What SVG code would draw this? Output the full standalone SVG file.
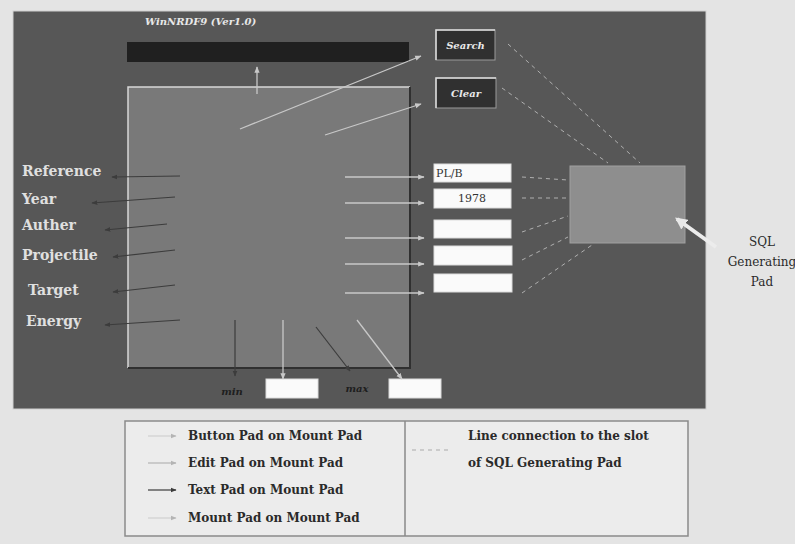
<svg xmlns="http://www.w3.org/2000/svg" width="795" height="544" viewBox="0 0 795 544">
<defs>
<marker id="aL" viewBox="0 0 10 10" refX="9" refY="5" markerWidth="5" markerHeight="5" orient="auto"><path d="M0,1 L10,5 L0,9 z" fill="#c8c8c8"/></marker>
<marker id="aD" viewBox="0 0 10 10" refX="9" refY="5" markerWidth="5" markerHeight="5" orient="auto"><path d="M0,1 L10,5 L0,9 z" fill="#3c3c3c"/></marker>
<marker id="aW" viewBox="0 0 10 10" refX="8" refY="5" markerWidth="3" markerHeight="3" orient="auto"><path d="M0,0 L10,5 L0,10 z" fill="#e8e8e8"/></marker>
<marker id="aG" viewBox="0 0 10 10" refX="9" refY="5" markerWidth="5" markerHeight="5" orient="auto"><path d="M0,1 L10,5 L0,9 z" fill="#b4b4b4"/></marker>
</defs>
<style>
.lbl{font-family:"DejaVu Serif",serif;font-weight:bold;font-size:14px;fill:#e0e0e0}
.btn{font-family:"DejaVu Serif",serif;font-weight:bold;font-style:italic;font-size:10px;fill:#e8e8e8}
.dk{font-family:"DejaVu Serif",serif;font-weight:bold;font-style:italic;font-size:10px;fill:#1e1e1e}
.edit{fill:#fafafa;stroke:#dcdcdc;stroke-width:1}
.ed{font-family:"DejaVu Serif",serif;font-size:11px;fill:#333}
.leg{font-family:"DejaVu Serif",serif;font-weight:bold;font-size:12px;fill:#2a2a2a}
.sql{font-family:"DejaVu Serif",serif;font-size:12px;fill:#2a2a2a}
.light{stroke:#c8c8c8;stroke-width:1.3;fill:none;marker-end:url(#aL)}
.dark{stroke:#3c3c3c;stroke-width:1.2;fill:none;marker-end:url(#aD)}
.dash{stroke:#b0b0b0;stroke-width:1;stroke-dasharray:4,4;fill:none}
</style>
<rect x="0" y="0" width="795" height="544" fill="#e4e4e4"/>
<g id="mainpanel"><rect x="13" y="11" width="693" height="398" fill="#575757" stroke="#cfcfcf" stroke-width="1"/></g>
<g id="title"><text x="145" y="25" class="btn" font-size="9.5">WinNRDF9 (Ver1.0)</text></g>
<g id="titlebar"><rect x="127" y="42" width="282" height="20" fill="#202020"/></g>
<g id="mountpad">
<rect x="128" y="87" width="282" height="281" fill="#797979"/>
<path d="M128,368 L128,87 L410,87" stroke="#d8d8d8" stroke-width="1.5" fill="none"/>
<path d="M410,87 L410,368 L128,368" stroke="#303030" stroke-width="2" fill="none"/>
</g>
<g id="search"><rect x="436" y="30" width="59" height="30" fill="#303030" stroke="#9a9a9a" stroke-width="1"/><path d="M436,60 L436,30 L495,30" stroke="#dcdcdc" stroke-width="1.5" fill="none"/><text x="465.5" y="49" class="btn" text-anchor="middle">Search</text></g>
<g id="clear"><rect x="436" y="78" width="60" height="30" fill="#303030" stroke="#9a9a9a" stroke-width="1"/><path d="M436,108 L436,78 L496,78" stroke="#dcdcdc" stroke-width="1.5" fill="none"/><text x="466" y="97" class="btn" text-anchor="middle">Clear</text></g>
<g id="labels">
<text x="22" y="176" class="lbl">Reference</text>
<text x="22" y="204" class="lbl">Year</text>
<text x="22" y="230" class="lbl">Auther</text>
<text x="22" y="260" class="lbl">Projectile</text>
<text x="28" y="295" class="lbl">Target</text>
<text x="26" y="326" class="lbl">Energy</text>
</g>
<g id="editpads">
<rect x="434" y="164" width="77" height="18" class="edit"/><text x="436" y="177" class="ed">PL/B</text>
<rect x="434" y="189" width="77" height="19" class="edit"/><text x="472" y="202" class="ed" text-anchor="middle">1978</text>
<rect x="434" y="220" width="77" height="18" class="edit"/>
<rect x="434" y="246" width="78" height="19" class="edit"/>
<rect x="434" y="274" width="78" height="18" class="edit"/>
<rect x="266" y="379" width="52" height="19" class="edit"/>
<rect x="389" y="379" width="52" height="19" class="edit"/>
</g>
<g id="sqlpad"><rect x="570" y="166" width="115" height="77" fill="#8e8e8e" stroke="#a0a0a0" stroke-width="1"/></g>
<g id="sqllabel"><text x="762" y="246" class="sql" text-anchor="middle">SQL</text><text x="762" y="266" class="sql" text-anchor="middle">Generating</text><text x="762" y="286" class="sql" text-anchor="middle">Pad</text></g>
<g id="minmax"><text x="232" y="395" class="dk" text-anchor="middle">min</text><text x="357" y="392" class="dk" text-anchor="middle">max</text></g>
<g id="connectors">
<line x1="257" y1="94" x2="257" y2="67" class="light"/>
<line x1="240" y1="129" x2="421" y2="56" class="light"/>
<line x1="325" y1="135" x2="421" y2="104" class="light"/>
<line x1="180" y1="176" x2="112" y2="177" class="dark"/>
<line x1="175" y1="197" x2="92" y2="203" class="dark"/>
<line x1="167" y1="224" x2="105" y2="230" class="dark"/>
<line x1="175" y1="250" x2="113" y2="257" class="dark"/>
<line x1="175" y1="285" x2="113" y2="292" class="dark"/>
<line x1="180" y1="320" x2="105" y2="325" class="dark"/>
<line x1="345" y1="177" x2="424" y2="177" class="light"/>
<line x1="345" y1="203" x2="424" y2="203" class="light"/>
<line x1="345" y1="238" x2="424" y2="238" class="light"/>
<line x1="345" y1="264" x2="424" y2="264" class="light"/>
<line x1="345" y1="293" x2="424" y2="293" class="light"/>
<line x1="235" y1="320" x2="235" y2="376" class="dark"/>
<line x1="283" y1="320" x2="283" y2="379" class="light"/>
<line x1="316" y1="327" x2="350" y2="371" class="dark"/>
<line x1="357" y1="320" x2="402" y2="379" class="light"/>
<line x1="508" y1="44" x2="640" y2="163" class="dash"/>
<line x1="502" y1="88" x2="608" y2="163" class="dash"/>
<line x1="522" y1="177" x2="568" y2="180" class="dash"/>
<line x1="522" y1="198" x2="568" y2="198" class="dash"/>
<line x1="522" y1="232" x2="568" y2="216" class="dash"/>
<line x1="522" y1="260" x2="568" y2="237" class="dash"/>
<line x1="522" y1="293" x2="592" y2="245" class="dash"/>
<line x1="716" y1="247" x2="677" y2="219" stroke="#ececec" stroke-width="4" marker-end="url(#aW)"/>
</g>
<g id="legend">
<rect x="125" y="421" width="563" height="115" fill="#ececec" stroke="#8a8a8a" stroke-width="1.5"/>
<line x1="405" y1="421" x2="405" y2="536" stroke="#8a8a8a" stroke-width="1.5"/>
<line x1="148" y1="436" x2="176" y2="436" stroke="#d0d0d0" stroke-width="1.2" marker-end="url(#aG)"/>
<line x1="148" y1="463" x2="176" y2="463" stroke="#b4b4b4" stroke-width="1.2" marker-end="url(#aG)"/>
<line x1="148" y1="490" x2="176" y2="490" class="dark"/>
<line x1="148" y1="518" x2="176" y2="518" stroke="#d0d0d0" stroke-width="1.2" marker-end="url(#aG)"/>
<text x="188" y="440" class="leg">Button Pad on Mount Pad</text>
<text x="188" y="467" class="leg">Edit Pad on Mount Pad</text>
<text x="188" y="494" class="leg">Text Pad on Mount Pad</text>
<text x="188" y="522" class="leg">Mount Pad on Mount Pad</text>
<line x1="412" y1="450" x2="452" y2="450" stroke="#aaa" stroke-width="1" stroke-dasharray="4,4"/>
<text x="468" y="440" class="leg">Line connection to the slot</text>
<text x="468" y="467" class="leg">of SQL Generating Pad</text>
</g>
</svg>
